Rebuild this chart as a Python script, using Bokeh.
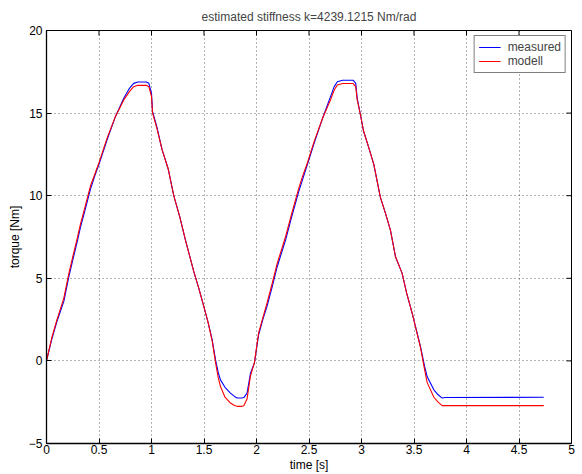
import math
from bokeh.plotting import figure
from bokeh.models import Range1d, FixedTicker, Legend, LegendItem
from bokeh.embed import file_html
from bokeh.resources import INLINE

# ---- data ----
time_s = [0.00, 0.05, 0.10, 0.165, 0.213, 0.25, 0.292, 0.324, 0.37, 0.419, 0.46, 0.50,
          0.578, 0.657, 0.736, 0.79, 0.83, 0.87, 0.95, 0.975, 1.00, 1.01, 1.05, 1.10,
          1.16, 1.212, 1.27, 1.324, 1.403, 1.45, 1.498, 1.54, 1.578, 1.61, 1.635, 1.657,
          1.70, 1.752, 1.79, 1.816, 1.86, 1.879, 1.91, 1.943, 1.98, 2.02, 2.06, 2.10,
          2.15, 2.197, 2.276, 2.33, 2.40, 2.44, 2.48, 2.55, 2.63, 2.705, 2.74, 2.77,
          2.82, 2.92, 2.945, 2.959, 2.99, 3.02, 3.07, 3.117, 3.18, 3.23, 3.276, 3.324,
          3.387, 3.43, 3.483, 3.562, 3.60, 3.625, 3.689, 3.73, 3.768, 3.80, 4.736]
measured = [0.0, 1.3, 2.4, 3.6, 5.1, 6.1, 7.2, 8.1, 9.2, 10.4, 11.2, 11.9,
            13.4, 14.8, 15.9, 16.5, 16.8, 16.88, 16.88, 16.8, 16.2, 15.1, 14.2, 12.8,
            11.6, 10.0, 8.7, 7.3, 5.4, 4.4, 3.3, 2.3, 1.27, 0.06, -0.7, -1.15,
            -1.6, -1.95, -2.15, -2.25, -2.25, -2.22, -1.95, -0.74, -0.13, 1.57, 2.5, 3.3,
            4.5, 5.7, 7.3, 8.6, 10.2, 11.0, 11.8, 13.2, 14.7, 16.0, 16.6, 16.9,
            16.99, 16.99, 16.8, 15.9, 14.9, 13.9, 12.9, 11.9, 9.9, 8.9, 7.9, 6.3,
            5.3, 4.1, 2.88, 0.86, -0.3, -0.95, -1.75, -2.05, -2.25, -2.22, -2.2]
modell = [0.0, 1.4, 2.5, 3.8, 5.3, 6.3, 7.4, 8.3, 9.4, 10.6, 11.3, 12.0,
          13.5, 14.8, 15.8, 16.3, 16.6, 16.68, 16.68, 16.6, 16.0, 15.0, 14.1, 12.8,
          11.6, 10.0, 8.7, 7.3, 5.4, 4.4, 3.3, 2.3, 1.2, -0.1, -1.0, -1.55,
          -2.2, -2.55, -2.7, -2.75, -2.75, -2.72, -2.3, -0.9, -0.1, 1.7, 2.6, 3.5,
          4.7, 5.9, 7.5, 8.8, 10.4, 11.2, 11.9, 13.3, 14.7, 15.8, 16.4, 16.7,
          16.79, 16.79, 16.6, 15.8, 14.9, 13.9, 12.9, 11.9, 9.9, 8.9, 7.9, 6.3,
          5.3, 4.1, 2.88, 0.8, -0.5, -1.3, -2.2, -2.5, -2.71, -2.71, -2.71]

x_ticks = [0, 0.5, 1, 1.5, 2, 2.5, 3, 3.5, 4, 4.5, 5]
x_tick_labels = ["0", "0.5", "1", "1.5", "2", "2.5", "3", "3.5", "4", "4.5", "5"]
y_ticks = [-5, 0, 5, 10, 15, 20]
y_tick_labels = ["\u22125", "0", "5", "10", "15", "20"]
x_min, x_max = 0, 5
y_min, y_max = -5, 20

FONT = "Liberation Sans"

p = figure(width=582, height=474, output_backend="svg", toolbar_location=None,
           x_range=Range1d(x_min, x_max), y_range=Range1d(y_min, y_max),
           min_border_left=46, min_border_right=11, min_border_top=30, min_border_bottom=30,
           title="estimated stiffness k=4239.1215 Nm/rad")
p.title.align = "center"
p.title.text_font = FONT
p.title.text_font_size = "12px"
p.title.text_font_style = "normal"
p.title.standoff = 14
p.title.offset = 0

p.outline_line_color = "black"
p.outline_line_width = 1
p.background_fill_color = "white"
p.border_fill_color = "white"

for ax, ticks, labels in ((p.xaxis[0], x_ticks, x_tick_labels), (p.yaxis[0], y_ticks, y_tick_labels)):
    ax.ticker = FixedTicker(ticks=ticks)
    ax.major_label_overrides = {t: l for t, l in zip(ticks, labels)}
    ax.major_tick_in = 5
    ax.major_tick_out = 0
    ax.minor_tick_line_color = None
    ax.axis_line_color = "black"
    ax.axis_line_width = 1.3
    ax.major_tick_line_color = "black"
    ax.major_label_text_font = FONT
    ax.major_label_text_font_size = "12px"
    ax.major_label_text_color = "black"
    ax.axis_label_text_font = FONT
    ax.axis_label_text_font_size = "12px"
    ax.axis_label_text_font_style = "normal"
    ax.axis_label_text_color = "black"

p.xaxis[0].axis_label = "time [s]"
p.xaxis[0].major_label_standoff = 1
p.xaxis[0].axis_label_standoff = 1
p.yaxis[0].axis_label = "torque [Nm]"
p.yaxis[0].major_label_standoff = 4
p.yaxis[0].axis_label_standoff = 4

p.xgrid.ticker = FixedTicker(ticks=x_ticks)
p.ygrid.ticker = FixedTicker(ticks=y_ticks)
for g in (p.xgrid[0], p.ygrid[0]):
    g.grid_line_color = "black"
    g.grid_line_alpha = 0.6
    g.grid_line_dash = "1 3"
    g.grid_line_width = 1

# mirrored inward ticks on the top and right edges of the box
p.scatter(x_ticks, [y_max] * len(x_ticks), marker="dash", size=10, angle=math.pi / 2,
          line_color="black", line_width=1)
p.scatter([x_max] * len(y_ticks), y_ticks, marker="dash", size=10,
          line_color="black", line_width=1)

r1 = p.line(time_s, measured, line_color="#0000ff", line_width=1.1)
r2 = p.line(time_s, modell, line_color="#ff0000", line_width=1.1)

legend = Legend(items=[LegendItem(label="measured", renderers=[r1]),
                       LegendItem(label="modell", renderers=[r2])],
                location="top_right")
legend.margin = 5
legend.padding = 4
legend.spacing = 0
legend.label_height = 12
legend.glyph_height = 12
legend.glyph_width = 22
legend.label_standoff = 7
legend.label_text_font = FONT
legend.label_text_font_size = "12px"
legend.label_text_line_height = 1.0
legend.border_line_color = "black"
legend.border_line_width = 1.3
legend.background_fill_alpha = 1
p.add_layout(legend, "center")

open("out.html", "w").write(file_html(p, INLINE))
